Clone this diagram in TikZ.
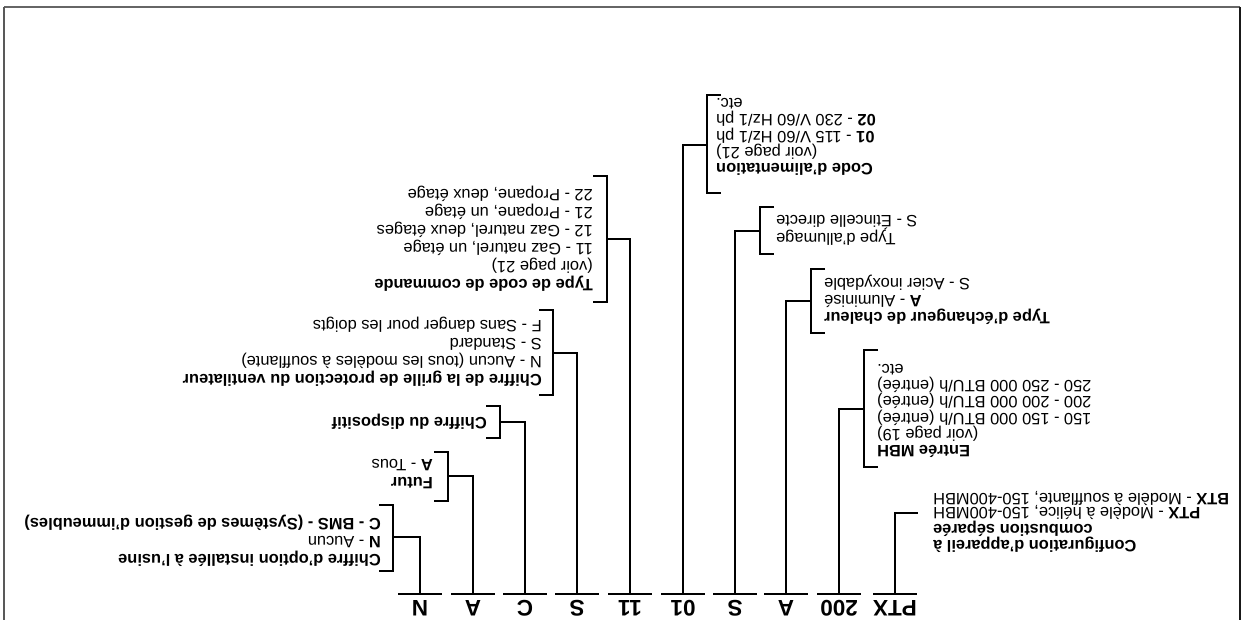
\documentclass[tikz,border=0pt]{standalone}
\usepackage{fontspec}
\setmainfont{Liberation Sans}
\begin{document}
\begin{tikzpicture}[x=1pt,y=-1pt,
  ln/.style={line width=1.8pt},
  frame/.style={line width=2pt},
  code/.style={rotate=180, font=\fontsize{22.5}{24}\selectfont\bfseries, inner sep=0pt},
  lbl/.style={rotate=180, anchor=west, align=left, inner sep=1pt, font=\fontsize{16.4}{18}\selectfont},
  rbl/.style={rotate=180, anchor=east, align=right, inner sep=1pt, font=\fontsize{16.4}{16.3}\selectfont}
]
\useasboundingbox (0,0) rectangle (1246,620);
% frame
\draw[frame, black!60] (4,7) -- (1240,7);
\draw[frame, black!65] (4,7) -- (4,620);
\draw[frame, black!90] (1240,7) -- (1240,620);

% code letters
\node[code] (cN)   at (420,608) {N};
\node[code] (cA1)  at (473,608) {A};
\node[code] (cC)   at (525,608) {C};
\node[code] (cS1)  at (577,608) {S};
\node[code] (c11)  at (630,608) {11};
\node[code] (c01)  at (683,608) {01};
\node[code] (cS2)  at (735,608) {S};
\node[code] (cA2)  at (786,608) {A};
\node[code] (c200) at (839,608) {200};
\node[code] (cPTX) at (895,608) {PTX};

% base points
\foreach \n/\x in {N/420, A1/473, C/525, S1/577, 11/630, 01/683, S2/735, A2/786, 200/839, PTX/895}{
  \coordinate (b\n) at (\x,594);
  \draw[ln] ([xshift=-22pt]b\n) -- ([xshift=22pt]b\n);
}

% junctions
\coordinate (jN)   at (393,537);
\coordinate (jA1)  at (448,476);
\coordinate (jC)   at (500,422);
\coordinate (jS1)  at (553,353);
\coordinate (j11)  at (607,239);
\coordinate (j01)  at (707,145);
\coordinate (jS2)  at (760,231);
\coordinate (jA2)  at (811,301);
\coordinate (j200) at (864,409);
\coordinate (jPTX) at (918,513);

\foreach \n in {N, A1, C, S1, 11, 01, S2, A2, 200, PTX}{
  \draw[ln] (b\n) |- (j\n);
}

% brackets (left-opening in image)
\foreach \x/\t/\b in {393/505/571, 448/452/501, 500/406/438, 553/310/395, 607/176/302}{
  \draw[ln] (\x-14,\t) -- (\x,\t) -- (\x,\b) -- (\x-14,\b);
}
% brackets (right-opening in image)
\foreach \x/\t/\b in {707/95/193, 760/207/254, 811/269/333, 864/350/467}{
  \draw[ln] (\x+14,\t) -- (\x,\t) -- (\x,\b) -- (\x+14,\b);
}

% labels left side
\node[lbl] (tN) at (382,541) {\textbf{Chiffre d'option installée à l'usine}\\ \textbf{N} - Aucun\\ \textbf{C - BMS - (Systèmes de gestion d'immeubles)}};
\node[lbl] (tA1) at (434,474) {\textbf{Futur}\\ \textbf{A} - Tous};
\node[lbl] (tC) at (488,422) {\textbf{Chiffre du dispositif}};
\node[lbl] (tS1) at (543,352) {\textbf{Chiffre de la grille de protection du ventilateur}\\ N - Aucun (tous les modèles à soufflante)\\ S - Standard\\ F - Sans danger pour les doigts};
\node[lbl] (t11) at (594,239) {\textbf{Type de code de commande}\\ (voir page 21)\\ 11 - Gaz naturel, un étage\\ 12 - Gaz naturel, deux étages\\ 21 - Propane, un étage\\ 22 - Propane, deux étage};

% labels right side
\node[rbl] (t01) at (715,137) {\textbf{Code d'alimentation}\\ (voir page 21)\\ \textbf{01} - 115 V/60 Hz/1 ph\\ \textbf{02} - 230 V/60 Hz/1 ph\\ etc.};
\node[rbl, font=\fontsize{16.4}{18}\selectfont] (tS2) at (775,230) {Type d'allumage\\ S - Étincelle directe};
\node[rbl, font=\fontsize{16.4}{17}\selectfont] (tA2) at (823,300) {\textbf{Type d'échangeur de chaleur}\\ \textbf{A} - Aluminisé\\ S - Acier inoxydable};
\node[rbl] (t200) at (876,411) {\textbf{Entrée MBH}\\ (voir page 19)\\ 150 - 150 000 BTU/h (entrée)\\ 200 - 200 000 BTU/h (entrée)\\ 250 - 250 000 BTU/h (entrée)\\ etc.};
\node[rbl, font=\fontsize{16.4}{14.5}\selectfont] (tPTX) at (932,522) {\textbf{Configuration d'appareil à}\\ \textbf{combustion séparée}\\ \textbf{PTX} - Modèle à hélice, 150-400MBH\\ \textbf{BTX} - Modèle à soufflante, 150-400MBH};
\end{tikzpicture}
\end{document}
